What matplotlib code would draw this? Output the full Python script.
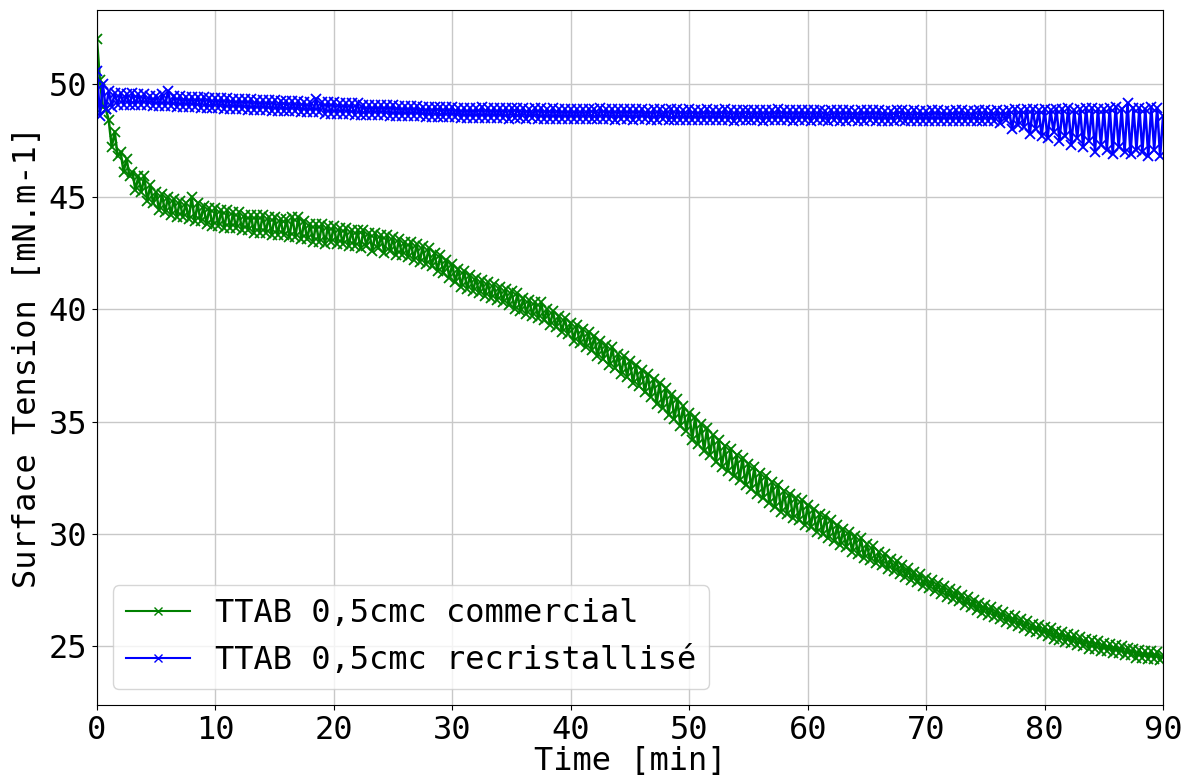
import numpy as np
import matplotlib
matplotlib.use("Agg")
import matplotlib.pyplot as plt

# readings every 0.25 min, 0 -> 90 min (one row = one minute)
time_min = np.arange(0, 90.25, 0.25)

tension_commercial = [
    52.0, 50.2, 49.0, 48.9,
    48.4, 47.2, 47.9, 46.8,
    47.0, 46.1, 46.7, 45.9,
    46.1, 45.3, 45.9, 45.2,
    45.9, 44.8, 45.5, 44.7,
    45.2, 44.4, 45.1, 44.3,
    45.0, 44.2, 44.9, 44.1,
    44.8, 44.1, 44.7, 44.0,
    45.0, 43.9, 44.7, 43.9,
    44.6, 43.8, 44.5, 43.7,
    44.5, 43.7, 44.4, 43.6,
    44.4, 43.6, 44.3, 43.6,
    44.3, 43.5, 44.2, 43.5,
    44.2, 43.4, 44.2, 43.4,
    44.2, 43.4, 44.1, 43.3,
    44.1, 43.3, 44.0, 43.3,
    44.0, 43.2, 44.1, 43.2,
    44.1, 43.1, 43.9, 43.1,
    43.8, 43.0, 43.8, 43.0,
    43.8, 42.9, 43.7, 43.0,
    43.7, 42.9, 43.6, 42.9,
    43.6, 42.8, 43.5, 42.8,
    43.5, 42.7, 43.5, 42.8,
    43.4, 42.6, 43.4, 42.7,
    43.3, 42.5, 43.3, 42.6,
    43.2, 42.4, 43.1, 42.4,
    43.0, 42.3, 43.0, 42.2,
    42.9, 42.1, 42.8, 42.0,
    42.7, 41.9, 42.5, 41.7,
    42.4, 41.6, 42.2, 41.4,
    42.0, 41.2, 41.8, 41.0,
    41.7, 40.9, 41.5, 40.8,
    41.4, 40.7, 41.3, 40.6,
    41.2, 40.5, 41.1, 40.4,
    41.0, 40.3, 40.9, 40.2,
    40.8, 40.0, 40.7, 39.9,
    40.5, 39.8, 40.4, 39.7,
    40.3, 39.6, 40.3, 39.5,
    40.0, 39.3, 39.9, 39.2,
    39.7, 39.0, 39.6, 38.9,
    39.4, 38.6, 39.3, 38.5,
    39.1, 38.3, 39.0, 38.2,
    38.8, 37.9, 38.6, 37.8,
    38.4, 37.5, 38.3, 37.4,
    38.0, 37.1, 37.9, 37.0,
    37.7, 36.7, 37.5, 36.6,
    37.3, 36.3, 37.1, 36.1,
    36.9, 35.8, 36.7, 35.6,
    36.5, 35.3, 36.2, 35.1,
    36.0, 34.8, 35.7, 34.6,
    35.4, 34.2, 35.2, 34.0,
    34.9, 33.7, 34.7, 33.5,
    34.4, 33.2, 34.2, 33.0,
    33.9, 32.8, 33.8, 32.6,
    33.5, 32.4, 33.4, 32.2,
    33.1, 32.0, 33.0, 31.8,
    32.7, 31.6, 32.6, 31.4,
    32.3, 31.2, 32.2, 31.0,
    31.9, 30.9, 31.8, 30.7,
    31.6, 30.6, 31.5, 30.4,
    31.3, 30.3, 31.1, 30.1,
    30.9, 30.0, 30.8, 29.8,
    30.6, 29.7, 30.4, 29.5,
    30.2, 29.4, 30.1, 29.2,
    29.9, 29.1, 29.8, 28.95,
    29.55, 28.85, 29.45, 28.7,
    29.2, 28.6, 29.1, 28.45,
    28.9, 28.35, 28.8, 28.2,
    28.6, 28.1, 28.5, 27.95,
    28.3, 27.85, 28.2, 27.7,
    28.05, 27.6, 27.95, 27.45,
    27.8, 27.35, 27.7, 27.2,
    27.55, 27.1, 27.45, 27.0,
    27.3, 26.85, 27.2, 26.75,
    27.05, 26.6, 26.95, 26.5,
    26.85, 26.4, 26.75, 26.3,
    26.6, 26.2, 26.55, 26.1,
    26.4, 26.0, 26.35, 25.9,
    26.2, 25.8, 26.15, 25.7,
    26.0, 25.65, 25.95, 25.55,
    25.85, 25.45, 25.8, 25.35,
    25.7, 25.3, 25.65, 25.2,
    25.55, 25.15, 25.5, 25.05,
    25.4, 25.0, 25.35, 24.9,
    25.3, 24.9, 25.25, 24.8,
    25.15, 24.8, 25.1, 24.7,
    25.05, 24.7, 25.0, 24.6,
    24.95, 24.6, 24.9, 24.5,
    24.85, 24.5, 24.8, 24.45,
    24.8, 24.45, 24.75, 24.4,
    24.6,
]

tension_recrist = [
    50.6, 48.6, 50.0, 48.9,
    49.7, 49.0, 49.6, 49.1,
    49.6, 49.1, 49.55, 49.1,
    49.6, 49.1, 49.55, 49.1,
    49.55, 49.1, 49.5, 49.05,
    49.5, 49.05, 49.55, 49.05,
    49.7, 49.05, 49.5, 49.0,
    49.5, 49.0, 49.45, 49.0,
    49.45, 49.0, 49.45, 48.95,
    49.45, 48.95, 49.4, 48.95,
    49.4, 48.95, 49.4, 48.9,
    49.4, 48.9, 49.35, 48.9,
    49.35, 48.9, 49.35, 48.85,
    49.35, 48.85, 49.3, 48.85,
    49.3, 48.85, 49.3, 48.8,
    49.3, 48.8, 49.25, 48.8,
    49.25, 48.8, 49.25, 48.8,
    49.25, 48.75, 49.2, 48.75,
    49.2, 48.75, 49.35, 48.75,
    49.2, 48.7, 49.2, 48.7,
    49.2, 48.7, 49.15, 48.7,
    49.15, 48.7, 49.15, 48.65,
    49.15, 48.65, 49.1, 48.65,
    49.1, 48.65, 49.1, 48.65,
    49.1, 48.65, 49.1, 48.6,
    49.1, 48.6, 49.05, 48.6,
    49.05, 48.6, 49.05, 48.6,
    49.05, 48.6, 49.0, 48.55,
    49.0, 48.55, 49.0, 48.55,
    49.0, 48.55, 49.0, 48.55,
    49.0, 48.55, 48.95, 48.5,
    48.95, 48.5, 48.95, 48.5,
    48.95, 48.5, 49.0, 48.5,
    48.95, 48.5, 48.95, 48.5,
    48.95, 48.5, 48.95, 48.45,
    48.95, 48.5, 48.95, 48.5,
    48.95, 48.45, 48.9, 48.5,
    48.95, 48.45, 48.95, 48.45,
    48.9, 48.45, 48.95, 48.45,
    48.9, 48.45, 48.9, 48.45,
    48.9, 48.45, 48.9, 48.45,
    48.9, 48.45, 48.9, 48.45,
    48.9, 48.45, 48.95, 48.45,
    48.9, 48.45, 48.9, 48.4,
    48.9, 48.45, 48.9, 48.45,
    48.9, 48.4, 48.9, 48.45,
    48.9, 48.45, 48.85, 48.4,
    48.9, 48.4, 48.9, 48.45,
    48.85, 48.4, 48.9, 48.4,
    48.9, 48.4, 48.85, 48.4,
    48.9, 48.4, 48.85, 48.4,
    48.85, 48.4, 48.9, 48.4,
    48.85, 48.4, 48.85, 48.4,
    48.9, 48.4, 48.85, 48.35,
    48.85, 48.4, 48.85, 48.4,
    48.85, 48.4, 48.85, 48.4,
    48.85, 48.35, 48.85, 48.4,
    48.85, 48.4, 48.9, 48.4,
    48.85, 48.4, 48.85, 48.35,
    48.85, 48.4, 48.85, 48.4,
    48.85, 48.35, 48.85, 48.4,
    48.85, 48.4, 48.8, 48.35,
    48.85, 48.4, 48.85, 48.35,
    48.85, 48.35, 48.85, 48.4,
    48.8, 48.35, 48.85, 48.35,
    48.85, 48.4, 48.85, 48.35,
    48.85, 48.35, 48.8, 48.35,
    48.8, 48.35, 48.85, 48.4,
    48.85, 48.35, 48.8, 48.35,
    48.85, 48.35, 48.8, 48.35,
    48.8, 48.35, 48.85, 48.35,
    48.85, 48.35, 48.8, 48.35,
    48.8, 48.35, 48.85, 48.35,
    48.85, 48.35, 48.8, 48.35,
    48.8, 48.35, 48.85, 48.35,
    48.85, 48.35, 48.8, 48.35,
    48.85, 48.3, 48.8, 48.4,
    48.85, 48.0, 48.9, 48.2,
    48.85, 48.1, 48.9, 47.8,
    48.9, 48.0, 48.85, 47.7,
    48.9, 47.6, 48.85, 47.9,
    48.9, 47.5, 48.9, 47.7,
    48.95, 47.3, 48.85, 47.6,
    48.9, 47.2, 48.95, 47.5,
    48.95, 47.0, 48.9, 47.3,
    48.9, 47.1, 48.95, 46.9,
    49.0, 47.2, 48.9, 47.0,
    49.15, 46.9, 48.95, 47.1,
    48.95, 47.0, 48.9, 46.8,
    49.0, 47.1, 48.95, 46.8,
    48.6,
]

labels = ["TTAB 0,5cmc commercial", "TTAB 0,5cmc recristallisé"]

plt.rcParams['font.family'] = ['DejaVu Sans Mono']
plt.rcParams['font.size'] = 23

fig, ax = plt.subplots(figsize=(11.82, 7.78), dpi=100)
fig.subplots_adjust(left=0.082, right=0.984, top=0.987, bottom=0.094)

ax.plot(time_min, tension_commercial, color='g', marker='x', lw=1.8, ms=7, mew=1.3, label=labels[0])
ax.plot(time_min, tension_recrist, color='b', marker='x', lw=1.8, ms=7, mew=1.3, label=labels[1])

ax.set_xlim(0, 90)
ax.set_ylim(22.4, 53.3)
ax.set_xticks(np.arange(0, 91, 10))
ax.set_yticks(np.arange(25, 51, 5))
ax.grid(True, color='#c8c8c8', lw=1)
ax.set_axisbelow(True)
ax.set_xlabel("Time [min]", labelpad=0)
ax.set_ylabel("Surface Tension [mN.m-1]")
leg = ax.legend(loc='lower left')
for ln in leg.get_lines():
    ln.set_linewidth(1.5)
    ln.set_markersize(6)
    ln.set_markeredgewidth(1)

fig.savefig("out.png")
